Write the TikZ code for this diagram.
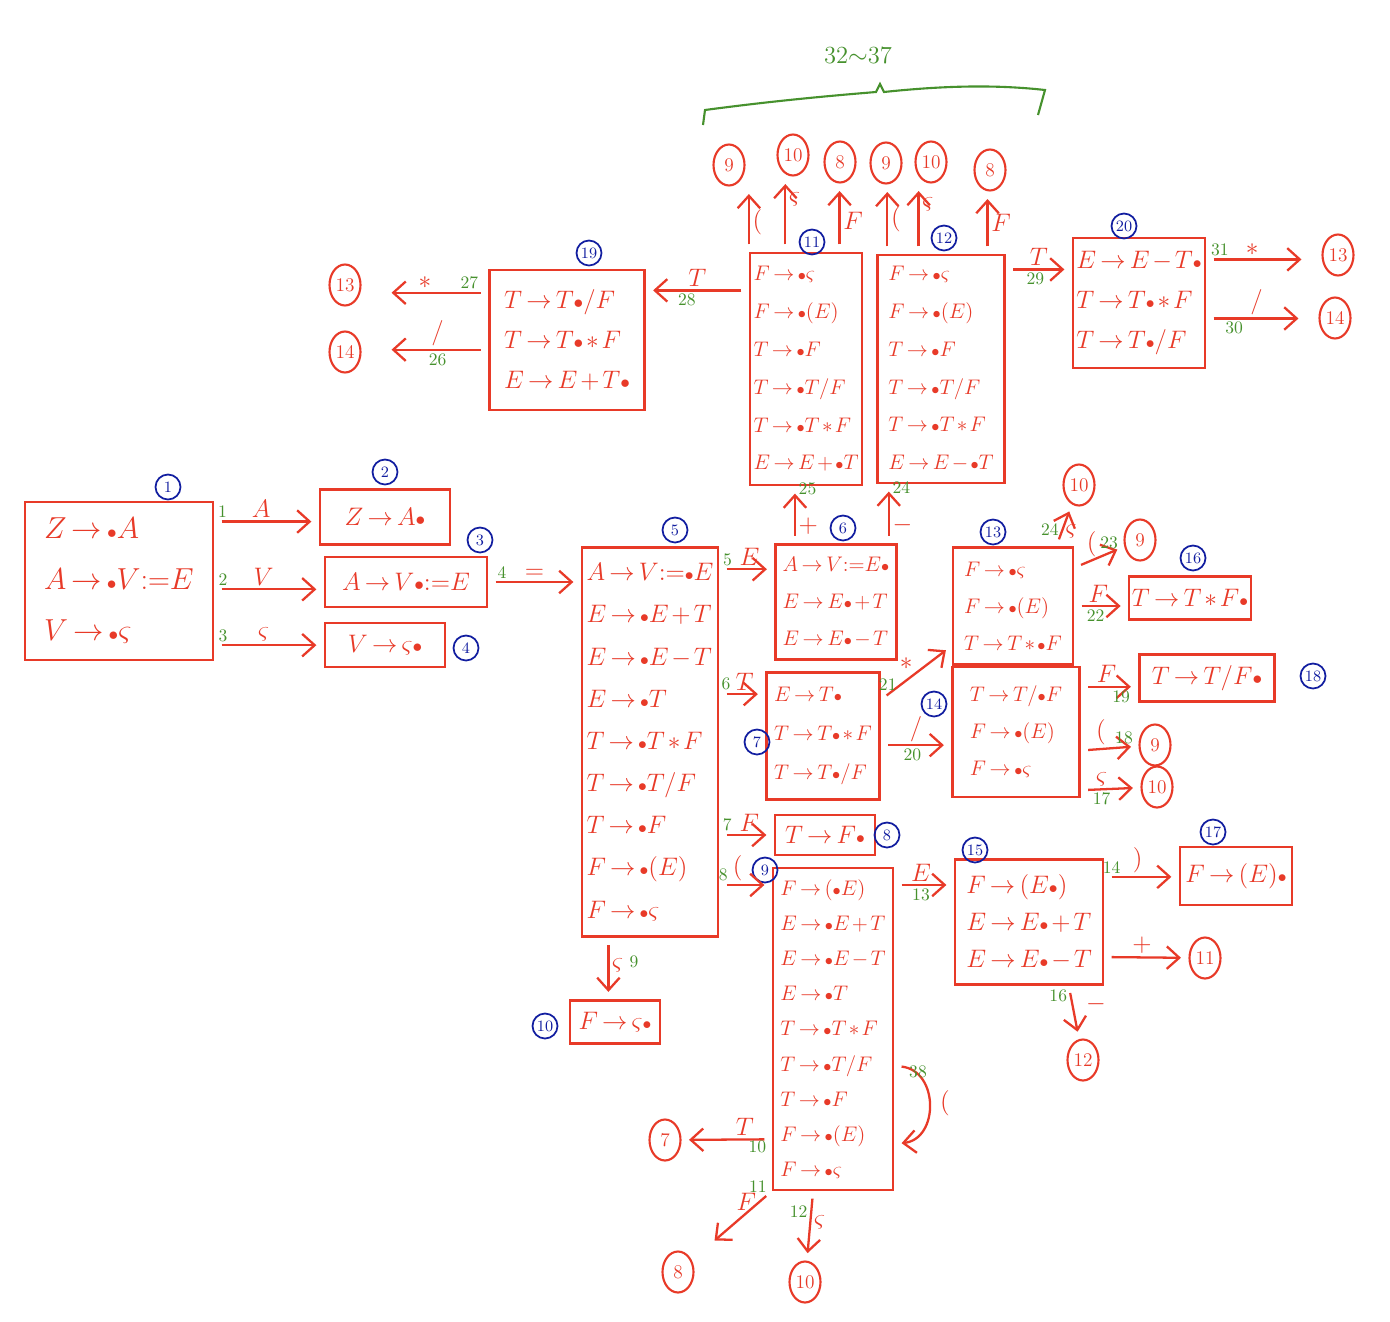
\documentclass[tikz,border=0pt]{standalone}
\usepackage{xcolor}
\usepackage{tikz}
\usepackage{amsmath}
\usetikzlibrary{positioning,shapes,arrows,arrows.meta,calc}

\definecolor{hred}{RGB}{232,58,40}
\definecolor{hblue}{RGB}{18,30,160}
\definecolor{hgreen}{RGB}{70,145,45}

\newcommand{\mk}{{\scriptstyle\bullet}}
\newcommand{\idt}{\varsigma}
\newcommand{\itemfont}[2]{\fontsize{#1}{#2}\selectfont\thickmuskip=3mu\medmuskip=2mu}

\tikzset{
  state/.style={draw=hred, line width=1.3pt, text=hred, align=left, inner xsep=1.5pt, inner ysep=2pt},
  slab/.style={circle, draw=hblue, text=hblue, line width=1pt, inner sep=0.5pt, minimum size=0.5cm, font=\fontsize{9}{9}\selectfont},
  tgt/.style={ellipse, draw=hred, text=hred, line width=1.2pt, inner sep=0pt, minimum width=0.62cm, minimum height=0.82cm, font=\fontsize{11}{11}\selectfont},
  trans/.style={draw=hred, line width=1.3pt, -{Straight Barb[length=2.5mm,width=4.5mm]}, shorten <=0.15cm, shorten >=0.15cm},
  sym/.style={text=hred, inner sep=1.5pt, font=\fontsize{14}{14}\selectfont},
  num/.style={text=hgreen, inner sep=1.5pt, font=\fontsize{10}{10}\selectfont},
}

\begin{document}
\begin{tikzpicture}[x=0.02cm, y=-0.02cm]
    \fill[white] (0,0) rectangle (1390,1322);
    \useasboundingbox (0,0) rectangle (1390,1322);

    % Item sets
    \node[state, minimum width=3.76cm, minimum height=3.16cm, font=\itemfont{16}{29}] (s1) at (119,581)
        {$Z\to\mk A$\\ $A\to\mk V{:=}E$\\ $V\to\mk\idt$};
    \node[state, minimum width=2.6cm, minimum height=1.1cm, font=\itemfont{15}{18}] (s2) at (385,517) {$Z\to A\mk$};
    \node[state, minimum width=3.24cm, minimum height=1.0cm, font=\itemfont{15}{18}] (s3) at (406,582) {$A\to V\mk{:=}E$};
    \node[state, minimum width=2.4cm, minimum height=0.88cm, font=\itemfont{15}{18}] (s4) at (385,645) {$V\to\idt\mk$};
    \node[state, minimum width=2.72cm, minimum height=7.78cm, font=\itemfont{14}{24}] (s5) at (650,742)
        {$A\to V{:=}\mk E$\\ $E\to\mk E+T$\\ $E\to\mk E-T$\\ $E\to\mk T$\\ $T\to\mk T*F$\\
         $T\to\mk T/F$\\ $T\to\mk F$\\ $F\to\mk(E)$\\ $F\to\mk\idt$};
    \node[state, minimum width=2.42cm, minimum height=2.3cm, font=\itemfont{13}{21}] (s6) at (836,602)
        {$A\to V{:=}E\mk$\\ $E\to E\mk+T$\\ $E\to E\mk-T$};
    \node[state, minimum width=2.26cm, minimum height=2.54cm, font=\itemfont{13}{22}] (s7) at (823,736)
        {$E\to T\mk$\\ $T\to T\mk*F$\\ $T\to T\mk/F$};
    \node[state, minimum width=2.0cm, minimum height=0.8cm, font=\itemfont{14}{18}] (s8) at (825,835) {$T\to F\mk$};
    \node[state, minimum width=2.4cm, minimum height=6.44cm, font=\itemfont{13}{20}] (s9) at (833,1029)
        {$F\to(\mk E)$\\ $E\to\mk E+T$\\ $E\to\mk E-T$\\ $E\to\mk T$\\ $T\to\mk T*F$\\
         $T\to\mk T/F$\\ $T\to\mk F$\\ $F\to\mk(E)$\\ $F\to\mk\idt$};
    \node[state, minimum width=1.8cm, minimum height=0.86cm, font=\itemfont{14}{18}] (s10) at (615,1022) {$F\to\idt\mk$};
    \node[state, minimum width=2.24cm, minimum height=4.64cm, font=\itemfont{13}{21.5}] (s11) at (806,369)
        {$F\to\mk\idt$\\ $F\to\mk(E)$\\ $T\to\mk F$\\ $T\to\mk T/F$\\ $T\to\mk T*F$\\ $E\to E+\mk T$};
    \node[state, minimum width=2.54cm, minimum height=4.56cm, font=\itemfont{13}{21.5}] (s12) at (941,369)
        {$F\to\mk\idt$\\ $F\to\mk(E)$\\ $T\to\mk F$\\ $T\to\mk T/F$\\ $T\to\mk T*F$\\ $E\to E-\mk T$};
    \node[state, minimum width=2.4cm, minimum height=2.34cm, font=\itemfont{13}{21}] (s13) at (1013,606)
        {$F\to\mk\idt$\\ $F\to\mk(E)$\\ $T\to T*\mk F$};
    \node[state, minimum width=2.54cm, minimum height=2.6cm, font=\itemfont{13}{21}] (s14) at (1016,732)
        {$T\to T/\mk F$\\ $F\to\mk(E)$\\ $F\to\mk\idt$};
    \node[state, minimum width=2.96cm, minimum height=2.5cm, font=\itemfont{14}{21}] (s15) at (1029,922)
        {$F\to(E\mk)$\\ $E\to E\mk+T$\\ $E\to E\mk-T$};
    \node[state, minimum width=2.4cm, minimum height=0.86cm, font=\itemfont{14}{18}] (s16) at (1190,598) {$T\to T*F\mk$};
    \node[state, minimum width=2.24cm, minimum height=1.16cm, font=\itemfont{14}{18}] (s17) at (1236,876) {$F\to(E)\mk$};
    \node[state, minimum width=2.7cm, minimum height=0.94cm, font=\itemfont{15}{18}] (s18) at (1207,678) {$T\to T/F\mk$};
    \node[state, minimum width=3.1cm, minimum height=2.8cm, font=\itemfont{15}{23}] (s19) at (567,340)
        {$T\to T\mk/F$\\ $T\to T\mk*F$\\ $E\to E+T\mk$};
    \node[state, minimum width=2.64cm, minimum height=2.6cm, font=\itemfont{14}{23}] (s20) at (1139,303)
        {$E\to E-T\mk$\\ $T\to T\mk*F$\\ $T\to T\mk/F$};

    % State numbers
    \node[slab] (n1) at (168,487) {1};
    \node[slab] (n2) at (385,472) {2};
    \node[slab] (n3) at (480,540) {3};
    \node[slab] (n4) at (466,648) {4};
    \node[slab] (n5) at (675,530) {5};
    \node[slab] (n6) at (843,528) {6};
    \node[slab] (n7) at (757,742) {7};
    \node[slab] (n8) at (887,835) {8};
    \node[slab] (n9) at (765,870) {9};
    \node[slab] (n10) at (545,1026) {10};
    \node[slab] (n11) at (812,242) {11};
    \node[slab] (n12) at (944,238) {12};
    \node[slab] (n13) at (993,532) {13};
    \node[slab] (n14) at (934,704) {14};
    \node[slab] (n15) at (975,850) {15};
    \node[slab] (n16) at (1193,558) {16};
    \node[slab] (n17) at (1213,832) {17};
    \node[slab] (n18) at (1313,676) {18};
    \node[slab] (n19) at (589,253) {19};
    \node[slab] (n20) at (1124,226) {20};

    % Goto targets
    \node[tgt] (t13a) at (345,285) {13};
    \node[tgt] (t14a) at (345,352) {14};
    \node[tgt] (t13b) at (1338,255) {13};
    \node[tgt] (t14b) at (1335,318) {14};
    \node[tgt] (t9a) at (729,165) {9};
    \node[tgt] (t10a) at (793,155) {10};
    \node[tgt] (t8a) at (840,162) {8};
    \node[tgt] (t9b) at (886,163) {9};
    \node[tgt] (t10b) at (931,162) {10};
    \node[tgt] (t8b) at (990,170) {8};
    \node[tgt] (t10c) at (1079,485) {10};
    \node[tgt] (t9c) at (1140,540) {9};
    \node[tgt] (t9d) at (1155,745) {9};
    \node[tgt] (t10d) at (1157,787) {10};
    \node[tgt] (t11) at (1205,958) {11};
    \node[tgt] (t12) at (1083,1060) {12};
    \node[tgt] (t7) at (665,1140) {7};
    \node[tgt] (t8c) at (678,1272) {8};
    \node[tgt] (t10e) at (805,1282) {10};

    % Transitions out of 1 and 3
    \draw[trans] (s1.32) -- node[sym,above,pos=.45]{$A$} node[num,above,pos=.08]{1} (s1.32 -| s2.west);
    \draw[trans] (s1.-5) -- node[sym,above,pos=.45]{$V$} node[num,above,pos=.08]{2} (s1.-5 -| s3.west);
    \draw[trans] (s1.-34) -- node[sym,above,pos=.45]{$\idt$} node[num,above,pos=.08]{3} (s1.-34 -| s4.west);
    \draw[trans] (s3.east) -- node[sym,above,pos=.5]{$=$} node[num,above,pos=.15]{4} (s3.east -| s5.west);

    % Transitions out of 5
    \draw[trans] (s6.152 -| s5.east) -- node[sym,above,pos=.55]{$E$} node[num,above,pos=.15]{5} (s6.152);
    \draw[trans] (s7.144 -| s5.east) -- node[sym,above,pos=.55]{$T$} node[num,above,pos=.15]{6} (s7.144);
    \draw[trans] (s8.west -| s5.east) -- node[sym,above,pos=.55]{$F$} node[num,above,pos=.15]{7} (s8.west);
    \draw[trans] (s9.113 -| s5.east) -- node[sym,above,pos=.35]{$($} node[num,above,pos=.08]{8} (s9.113);
    \draw[trans] (s5.-102) -- node[sym,right,pos=.45]{$\idt$} node[num,right,pos=.4,xshift=0.35cm]{9} (s5.-102 |- s10.north);

    % Transitions out of 6 and 7
    \draw[trans] (s6.125) -- node[sym,right,pos=.3]{$+$} node[num,right,pos=.95]{25} (s6.125 |- s11.south);
    \draw[trans] (s6.48) -- node[sym,right,pos=.3]{$-$} node[num,right,pos=.95]{24} (s6.48 |- s12.south);
    \draw[trans] (s7.32) -- node[sym,above left,pos=.5]{$*$} node[num,above,pos=.1]{21} (s13.213);
    \draw[trans] (s7.-9) -- node[sym,above,pos=.5]{$/$} node[num,below,pos=.45]{20} (s7.-9 -| s14.west);

    % Transitions out of 13 and 14
    \draw[trans] (s13.54) -- node[sym,right,pos=.35]{$\idt$} node[num,left,pos=.4]{24} (t10c);
    \draw[trans] (s13.32) -- node[sym,above,pos=.35]{$($} node[num,above,pos=.7]{23} (t9c);
    \draw[trans] (s13.east) -- node[sym,above,pos=.45]{$F$} node[num,below,pos=.4]{22} (s13.east -| s16.west);
    \draw[trans] (s14.35) -- node[sym,above,pos=.45]{$F$} node[num,below,pos=.7]{19} (s14.35 -| s18.west);
    \draw[trans] (s14.-16) -- node[sym,above,pos=.35]{$($} node[num,above,pos=.75]{18} (t9d);
    \draw[trans] (s14.-42) -- node[sym,above,pos=.35]{$\idt$} node[num,below,pos=.35]{17} (t10d);

    % Transitions out of 9 and 15
    \draw[trans] (s9.67) -- node[sym,above,pos=.45]{$E$} node[num,below,pos=.45]{13} (s9.67 -| s15.west);
    \draw[trans] (s9.-31) .. controls ($(s9.-31)+(45,5)$) and ($(s9.-62)+(45,-5)$) .. (s9.-62);
    \node[sym] (lp) at (945,1103) {$($};
    \node[num] (lpn) at (918,1072) {38};
    \draw[trans] (s9.241) -- node[sym,above,pos=.3]{$T$} node[num,right,pos=.3,yshift=-0.15cm]{10} (t7);
    \draw[trans, shorten >=0.6cm] (s9.south west) -- node[sym,left,pos=.15]{$F$} node[num,above,pos=.08,xshift=-0.15cm]{11} (t8c);
    \draw[trans] (s9.-97) -- node[sym,right,pos=.45]{$\idt$} node[num,left,pos=.3]{12} (t10e);
    \draw[trans] (s15.31) -- node[sym,above,pos=.45]{$)$} node[num,above,pos=.1]{14} (s15.31 -| s17.west);
    \draw[trans] (s15.-25) -- node[sym,above,pos=.45]{$+$} (t11);
    \draw[trans] (s15.-58) -- node[sym,right,pos=.35,xshift=0.2cm]{$-$} node[num,left,pos=.2]{16} (t12);

    % Transitions out of 11, 12, 19 and 20
    \draw[trans] (s11.116) -- node[sym,right,pos=.45]{$($} (s11.116 |- t9a.south);
    \draw[trans] (s11.100) -- node[sym,right,pos=.7]{$\idt$} (s11.100 |- t10a.south);
    \draw[trans] (s11.74) -- node[sym,right,pos=.45]{$F$} (s11.74 |- t8a.south);
    \draw[trans] (s12.115) -- node[sym,right,pos=.5]{$($} (s12.115 |- t9b.south);
    \draw[trans] (s12.101) -- node[sym,right,pos=.7]{$\idt$} (s12.101 |- t10b.south);
    \draw[trans] (s12.68) -- node[sym,right,pos=.5]{$F$} (s12.68 |- t8b.south);
    \draw[trans] (s11.126) -- node[sym,above,pos=.5]{$T$} node[num,below,pos=.6]{28} (s11.126 -| s19.east);
    \draw[trans, shorten >=0.6cm] (s19.149) -- node[sym,above,pos=.5]{$*$} node[num,above,pos=.15]{27} (s19.149 -| t13a.east);
    \draw[trans, shorten >=0.6cm] (s19.187) -- node[sym,above,pos=.4]{$/$} node[num,below,pos=.4]{26} (s19.187 -| t14a.east);
    \draw[trans] (s12.57) -- node[sym,above,pos=.5]{$T$} node[num,below,pos=.45]{29} (s12.57 -| s20.west);
    \draw[trans, shorten >=0.4cm] (s20.33) -- node[sym,above,pos=.4]{$*$} node[num,above,pos=.12]{31} (s20.33 -| t13b.west);
    \draw[trans, shorten >=0.4cm] (s20.-13) -- node[sym,above,pos=.45]{$/$} node[num,below,pos=.25]{30} (s20.-13 -| t14b.west);

    % Brace over the top targets
    \draw[hgreen, line width=1.2pt] (703,125) -- (705,110) .. controls (780,100) and (840,95) .. (876,92)
        -- (880,84) -- (884,92) .. controls (950,85) and (1000,85) .. (1045,90) -- (1038,115);
    \node[num, font=\fontsize{14}{14}\selectfont] (brc) at (858,55) {32$\sim$37};
\end{tikzpicture}
\end{document}
